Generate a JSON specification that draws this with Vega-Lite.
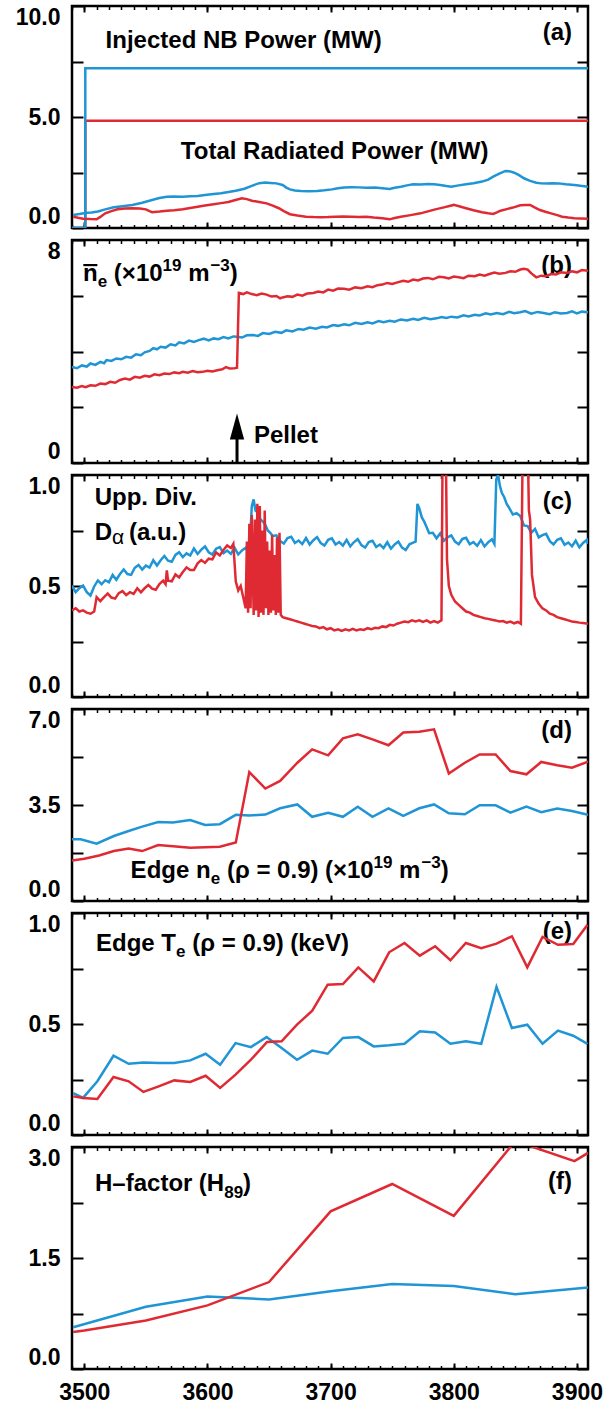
{
  "$schema": "https://vega.github.io/schema/vega-lite/v6.json",
  "padding": {"left": 13, "top": 3, "right": 5, "bottom": 5},
  "spacing": 6,
  "config": {
    "view": {"stroke": "#000", "strokeWidth": 2.5},
    "font": "Liberation Sans",
    "axis": {"labelFont": "Liberation Sans", "labelFontSize": 23, "labelFontWeight": "bold", "labelColor": "#000", "tickColor": "#000", "tickWidth": 2, "domain": false, "grid": false, "labelOverlap": false, "minExtent": 0},
    "text": {"font": "Liberation Sans", "fontWeight": "bold", "fontSize": 24, "color": "#000"},
    "line": {"strokeWidth": 2.5}
  },
  "datasets": {
    "notes": [
      {"panel": "a", "role": "main", "txt": "Injected NB Power (MW)", "t": 3517.3, "v": 8.1},
      {"panel": "a", "role": "main", "txt": "Total Radiated Power (MW)", "t": 3578.4, "v": 3.1},
      {"panel": "a", "role": "tag", "txt": "(a)", "t": 3896, "v": 8.8},
      {"panel": "b", "role": "main", "txt": "n", "t": 3498.9, "v": 6.53},
      {"panel": "b", "role": "sub", "txt": "e", "t": 3510.9, "v": 6.53},
      {"panel": "b", "role": "main", "txt": "(×10", "t": 3524.0, "v": 6.53},
      {"panel": "b", "role": "sup", "txt": "19", "t": 3563.5, "v": 6.53},
      {"panel": "b", "role": "main", "txt": "m", "t": 3584.3, "v": 6.53},
      {"panel": "b", "role": "sup", "txt": "−3", "t": 3602.4, "v": 6.53},
      {"panel": "b", "role": "main", "txt": ")", "t": 3618.1, "v": 6.53},
      {"panel": "b", "role": "main", "txt": "Pellet", "t": 3637.7, "v": 0.7},
      {"panel": "b", "role": "tag", "txt": "(b)", "t": 3896, "v": 7.07},
      {"panel": "c", "role": "main", "txt": "Upp. Div.", "t": 3508.4, "v": 0.864},
      {"panel": "c", "role": "main", "txt": "D", "t": 3508.4, "v": 0.709},
      {"panel": "c", "role": "greek", "txt": "α", "t": 3522.5, "v": 0.709},
      {"panel": "c", "role": "main", "txt": "(a.u.)", "t": 3536.2, "v": 0.709},
      {"panel": "c", "role": "tag", "txt": "(c)", "t": 3896, "v": 0.877},
      {"panel": "d", "role": "main", "txt": "Edge", "t": 3537.6, "v": 0.84},
      {"panel": "d", "role": "main", "txt": "n", "t": 3590.7, "v": 0.84},
      {"panel": "d", "role": "sub", "txt": "e", "t": 3602.6, "v": 0.84},
      {"panel": "d", "role": "main", "txt": "(ρ = 0.9)", "t": 3615.8, "v": 0.84},
      {"panel": "d", "role": "main", "txt": "(×10", "t": 3695.4, "v": 0.84},
      {"panel": "d", "role": "sup", "txt": "19", "t": 3734.9, "v": 0.84},
      {"panel": "d", "role": "main", "txt": "m", "t": 3755.6, "v": 0.84},
      {"panel": "d", "role": "sup", "txt": "−3", "t": 3773.7, "v": 0.84},
      {"panel": "d", "role": "main", "txt": ")", "t": 3789.5, "v": 0.84},
      {"panel": "d", "role": "tag", "txt": "(d)", "t": 3896, "v": 6.2},
      {"panel": "e", "role": "main", "txt": "Edge", "t": 3509.5, "v": 0.829},
      {"panel": "e", "role": "main", "txt": "T", "t": 3562.5, "v": 0.829},
      {"panel": "e", "role": "sub", "txt": "e", "t": 3574.5, "v": 0.829},
      {"panel": "e", "role": "main", "txt": "(ρ = 0.9)", "t": 3587.6, "v": 0.829},
      {"panel": "e", "role": "main", "txt": "(keV)", "t": 3667.2, "v": 0.829},
      {"panel": "e", "role": "tag", "txt": "(e)", "t": 3896, "v": 0.914},
      {"panel": "f", "role": "main", "txt": "H–factor", "t": 3508.7, "v": 2.405},
      {"panel": "f", "role": "main", "txt": "(H", "t": 3593.0, "v": 2.405},
      {"panel": "f", "role": "sub", "txt": "89", "t": 3613.6, "v": 2.405},
      {"panel": "f", "role": "main", "txt": ")", "t": 3628.9, "v": 2.405},
      {"panel": "f", "role": "tag", "txt": "(f)", "t": 3896, "v": 2.53}
    ],
    "overbar": [{"t0": 3499.2, "t1": 3510.6, "v": 7.1}],
    "pellet": [{"t": 3624, "v0": 0, "v1": 1.0, "head": 1.31}],
    "pa": [
      {"s": "nb_pellet", "t": 3490, "v": 0}, {"s": "nb_pellet", "t": 3500.8, "v": 4.83}, {"s": "nb_pellet", "t": 3909, "v": 4.83},
      {"s": "nb_ref", "t": 3490, "v": 0}, {"s": "nb_ref", "t": 3500.8, "v": 7.2}, {"s": "nb_ref", "t": 3909, "v": 7.2},
      {"s": "ref", "t": 3491, "v": 0.59}, {"s": "ref", "t": 3496, "v": 0.63}, {"s": "ref", "t": 3502, "v": 0.69}, {"s": "ref", "t": 3506, "v": 0.7}, {"s": "ref", "t": 3511, "v": 0.74}, {"s": "ref", "t": 3517, "v": 0.84}, {"s": "ref", "t": 3524, "v": 0.93}, {"s": "ref", "t": 3531, "v": 0.98}, {"s": "ref", "t": 3539, "v": 1.04}, {"s": "ref", "t": 3547, "v": 1.14}, {"s": "ref", "t": 3555, "v": 1.26}, {"s": "ref", "t": 3561, "v": 1.35}, {"s": "ref", "t": 3567, "v": 1.41}, {"s": "ref", "t": 3573, "v": 1.42}, {"s": "ref", "t": 3580, "v": 1.41}, {"s": "ref", "t": 3586, "v": 1.43}, {"s": "ref", "t": 3592, "v": 1.44}, {"s": "ref", "t": 3598, "v": 1.49}, {"s": "ref", "t": 3605, "v": 1.53}, {"s": "ref", "t": 3611, "v": 1.57}, {"s": "ref", "t": 3617, "v": 1.62}, {"s": "ref", "t": 3623, "v": 1.68}, {"s": "ref", "t": 3630, "v": 1.77}, {"s": "ref", "t": 3636, "v": 1.9}, {"s": "ref", "t": 3642, "v": 2.02}, {"s": "ref", "t": 3647, "v": 2.05}, {"s": "ref", "t": 3651, "v": 2.03}, {"s": "ref", "t": 3656, "v": 2.01}, {"s": "ref", "t": 3661, "v": 1.94}, {"s": "ref", "t": 3664, "v": 1.82}, {"s": "ref", "t": 3667, "v": 1.74}, {"s": "ref", "t": 3671, "v": 1.69}, {"s": "ref", "t": 3676, "v": 1.67}, {"s": "ref", "t": 3682, "v": 1.66}, {"s": "ref", "t": 3689, "v": 1.67}, {"s": "ref", "t": 3695, "v": 1.7}, {"s": "ref", "t": 3701, "v": 1.74}, {"s": "ref", "t": 3706, "v": 1.79}, {"s": "ref", "t": 3711, "v": 1.82}, {"s": "ref", "t": 3717, "v": 1.84}, {"s": "ref", "t": 3723, "v": 1.83}, {"s": "ref", "t": 3729, "v": 1.81}, {"s": "ref", "t": 3736, "v": 1.82}, {"s": "ref", "t": 3742, "v": 1.79}, {"s": "ref", "t": 3748, "v": 1.76}, {"s": "ref", "t": 3752, "v": 1.81}, {"s": "ref", "t": 3757, "v": 1.86}, {"s": "ref", "t": 3762, "v": 1.92}, {"s": "ref", "t": 3767, "v": 1.97}, {"s": "ref", "t": 3773, "v": 1.96}, {"s": "ref", "t": 3779, "v": 1.98}, {"s": "ref", "t": 3784, "v": 1.97}, {"s": "ref", "t": 3789, "v": 1.94}, {"s": "ref", "t": 3794, "v": 1.89}, {"s": "ref", "t": 3798, "v": 1.86}, {"s": "ref", "t": 3804, "v": 1.92}, {"s": "ref", "t": 3810, "v": 1.97}, {"s": "ref", "t": 3816, "v": 2.02}, {"s": "ref", "t": 3823, "v": 2.09}, {"s": "ref", "t": 3828, "v": 2.18}, {"s": "ref", "t": 3832, "v": 2.31}, {"s": "ref", "t": 3837, "v": 2.45}, {"s": "ref", "t": 3842, "v": 2.57}, {"s": "ref", "t": 3846, "v": 2.55}, {"s": "ref", "t": 3849, "v": 2.49}, {"s": "ref", "t": 3853, "v": 2.38}, {"s": "ref", "t": 3857, "v": 2.24}, {"s": "ref", "t": 3862, "v": 2.12}, {"s": "ref", "t": 3867, "v": 2.04}, {"s": "ref", "t": 3871, "v": 2.01}, {"s": "ref", "t": 3876, "v": 2.0}, {"s": "ref", "t": 3880, "v": 2.02}, {"s": "ref", "t": 3885, "v": 2.01}, {"s": "ref", "t": 3891, "v": 1.97}, {"s": "ref", "t": 3898, "v": 1.94}, {"s": "ref", "t": 3903, "v": 1.9}, {"s": "ref", "t": 3909, "v": 1.86},
      {"s": "pellet", "t": 3491, "v": 0.51}, {"s": "pellet", "t": 3495, "v": 0.46}, {"s": "pellet", "t": 3499, "v": 0.42}, {"s": "pellet", "t": 3505, "v": 0.4}, {"s": "pellet", "t": 3510, "v": 0.39}, {"s": "pellet", "t": 3513, "v": 0.5}, {"s": "pellet", "t": 3517, "v": 0.66}, {"s": "pellet", "t": 3522, "v": 0.76}, {"s": "pellet", "t": 3527, "v": 0.84}, {"s": "pellet", "t": 3533, "v": 0.88}, {"s": "pellet", "t": 3539, "v": 0.89}, {"s": "pellet", "t": 3545, "v": 0.88}, {"s": "pellet", "t": 3550, "v": 0.84}, {"s": "pellet", "t": 3553, "v": 0.76}, {"s": "pellet", "t": 3555, "v": 0.71}, {"s": "pellet", "t": 3561, "v": 0.74}, {"s": "pellet", "t": 3567, "v": 0.78}, {"s": "pellet", "t": 3573, "v": 0.8}, {"s": "pellet", "t": 3580, "v": 0.84}, {"s": "pellet", "t": 3586, "v": 0.9}, {"s": "pellet", "t": 3592, "v": 0.96}, {"s": "pellet", "t": 3598, "v": 1.01}, {"s": "pellet", "t": 3605, "v": 1.07}, {"s": "pellet", "t": 3611, "v": 1.12}, {"s": "pellet", "t": 3617, "v": 1.17}, {"s": "pellet", "t": 3622, "v": 1.25}, {"s": "pellet", "t": 3628, "v": 1.34}, {"s": "pellet", "t": 3632, "v": 1.3}, {"s": "pellet", "t": 3636, "v": 1.23}, {"s": "pellet", "t": 3642, "v": 1.17}, {"s": "pellet", "t": 3648, "v": 1.11}, {"s": "pellet", "t": 3653, "v": 1.01}, {"s": "pellet", "t": 3658, "v": 0.89}, {"s": "pellet", "t": 3662, "v": 0.76}, {"s": "pellet", "t": 3667, "v": 0.62}, {"s": "pellet", "t": 3673, "v": 0.56}, {"s": "pellet", "t": 3680, "v": 0.51}, {"s": "pellet", "t": 3686, "v": 0.49}, {"s": "pellet", "t": 3692, "v": 0.48}, {"s": "pellet", "t": 3698, "v": 0.49}, {"s": "pellet", "t": 3704, "v": 0.51}, {"s": "pellet", "t": 3710, "v": 0.52}, {"s": "pellet", "t": 3717, "v": 0.51}, {"s": "pellet", "t": 3723, "v": 0.49}, {"s": "pellet", "t": 3729, "v": 0.51}, {"s": "pellet", "t": 3735, "v": 0.47}, {"s": "pellet", "t": 3742, "v": 0.44}, {"s": "pellet", "t": 3748, "v": 0.39}, {"s": "pellet", "t": 3752, "v": 0.45}, {"s": "pellet", "t": 3757, "v": 0.51}, {"s": "pellet", "t": 3765, "v": 0.58}, {"s": "pellet", "t": 3773, "v": 0.66}, {"s": "pellet", "t": 3779, "v": 0.75}, {"s": "pellet", "t": 3785, "v": 0.84}, {"s": "pellet", "t": 3792, "v": 0.93}, {"s": "pellet", "t": 3800, "v": 1.04}, {"s": "pellet", "t": 3805, "v": 0.97}, {"s": "pellet", "t": 3810, "v": 0.89}, {"s": "pellet", "t": 3816, "v": 0.8}, {"s": "pellet", "t": 3823, "v": 0.71}, {"s": "pellet", "t": 3828, "v": 0.66}, {"s": "pellet", "t": 3832, "v": 0.63}, {"s": "pellet", "t": 3835, "v": 0.7}, {"s": "pellet", "t": 3838, "v": 0.78}, {"s": "pellet", "t": 3843, "v": 0.85}, {"s": "pellet", "t": 3848, "v": 0.92}, {"s": "pellet", "t": 3854, "v": 1.02}, {"s": "pellet", "t": 3858, "v": 1.04}, {"s": "pellet", "t": 3862, "v": 1.04}, {"s": "pellet", "t": 3866, "v": 0.92}, {"s": "pellet", "t": 3870, "v": 0.81}, {"s": "pellet", "t": 3875, "v": 0.72}, {"s": "pellet", "t": 3879, "v": 0.66}, {"s": "pellet", "t": 3884, "v": 0.58}, {"s": "pellet", "t": 3888, "v": 0.51}, {"s": "pellet", "t": 3893, "v": 0.47}, {"s": "pellet", "t": 3898, "v": 0.44}, {"s": "pellet", "t": 3903, "v": 0.43}, {"s": "pellet", "t": 3909, "v": 0.42}
    ],
    "pb": [
      {"s": "ref", "t": 3490, "v": 3.45}, {"s": "ref", "t": 3494, "v": 3.4}, {"s": "ref", "t": 3498, "v": 3.5}, {"s": "ref", "t": 3502, "v": 3.46}, {"s": "ref", "t": 3505, "v": 3.57}, {"s": "ref", "t": 3509, "v": 3.52}, {"s": "ref", "t": 3513, "v": 3.63}, {"s": "ref", "t": 3516, "v": 3.58}, {"s": "ref", "t": 3518, "v": 3.69}, {"s": "ref", "t": 3522, "v": 3.66}, {"s": "ref", "t": 3526, "v": 3.75}, {"s": "ref", "t": 3530, "v": 3.72}, {"s": "ref", "t": 3534, "v": 3.81}, {"s": "ref", "t": 3538, "v": 3.78}, {"s": "ref", "t": 3542, "v": 3.9}, {"s": "ref", "t": 3546, "v": 3.87}, {"s": "ref", "t": 3549, "v": 3.97}, {"s": "ref", "t": 3553, "v": 4.02}, {"s": "ref", "t": 3556, "v": 4.12}, {"s": "ref", "t": 3559, "v": 4.08}, {"s": "ref", "t": 3562, "v": 4.17}, {"s": "ref", "t": 3566, "v": 4.14}, {"s": "ref", "t": 3570, "v": 4.26}, {"s": "ref", "t": 3574, "v": 4.22}, {"s": "ref", "t": 3577, "v": 4.33}, {"s": "ref", "t": 3581, "v": 4.29}, {"s": "ref", "t": 3585, "v": 4.39}, {"s": "ref", "t": 3589, "v": 4.34}, {"s": "ref", "t": 3593, "v": 4.41}, {"s": "ref", "t": 3597, "v": 4.46}, {"s": "ref", "t": 3601, "v": 4.4}, {"s": "ref", "t": 3605, "v": 4.47}, {"s": "ref", "t": 3609, "v": 4.44}, {"s": "ref", "t": 3613, "v": 4.52}, {"s": "ref", "t": 3617, "v": 4.47}, {"s": "ref", "t": 3621, "v": 4.54}, {"s": "ref", "t": 3624, "v": 4.53}, {"s": "ref", "t": 3628, "v": 4.5}, {"s": "ref", "t": 3632, "v": 4.58}, {"s": "ref", "t": 3637, "v": 4.59}, {"s": "ref", "t": 3641, "v": 4.56}, {"s": "ref", "t": 3645, "v": 4.66}, {"s": "ref", "t": 3650, "v": 4.63}, {"s": "ref", "t": 3655, "v": 4.71}, {"s": "ref", "t": 3660, "v": 4.67}, {"s": "ref", "t": 3664, "v": 4.76}, {"s": "ref", "t": 3669, "v": 4.72}, {"s": "ref", "t": 3674, "v": 4.81}, {"s": "ref", "t": 3678, "v": 4.78}, {"s": "ref", "t": 3683, "v": 4.86}, {"s": "ref", "t": 3688, "v": 4.82}, {"s": "ref", "t": 3693, "v": 4.89}, {"s": "ref", "t": 3697, "v": 4.86}, {"s": "ref", "t": 3702, "v": 4.95}, {"s": "ref", "t": 3706, "v": 4.92}, {"s": "ref", "t": 3711, "v": 4.98}, {"s": "ref", "t": 3715, "v": 4.94}, {"s": "ref", "t": 3720, "v": 5.03}, {"s": "ref", "t": 3725, "v": 4.99}, {"s": "ref", "t": 3730, "v": 5.05}, {"s": "ref", "t": 3734, "v": 5.01}, {"s": "ref", "t": 3739, "v": 5.09}, {"s": "ref", "t": 3743, "v": 5.05}, {"s": "ref", "t": 3748, "v": 5.1}, {"s": "ref", "t": 3752, "v": 5.07}, {"s": "ref", "t": 3757, "v": 5.15}, {"s": "ref", "t": 3762, "v": 5.11}, {"s": "ref", "t": 3767, "v": 5.17}, {"s": "ref", "t": 3771, "v": 5.13}, {"s": "ref", "t": 3776, "v": 5.21}, {"s": "ref", "t": 3781, "v": 5.16}, {"s": "ref", "t": 3786, "v": 5.19}, {"s": "ref", "t": 3790, "v": 5.24}, {"s": "ref", "t": 3794, "v": 5.2}, {"s": "ref", "t": 3798, "v": 5.25}, {"s": "ref", "t": 3803, "v": 5.22}, {"s": "ref", "t": 3808, "v": 5.3}, {"s": "ref", "t": 3812, "v": 5.26}, {"s": "ref", "t": 3817, "v": 5.32}, {"s": "ref", "t": 3821, "v": 5.29}, {"s": "ref", "t": 3826, "v": 5.37}, {"s": "ref", "t": 3830, "v": 5.33}, {"s": "ref", "t": 3835, "v": 5.38}, {"s": "ref", "t": 3840, "v": 5.34}, {"s": "ref", "t": 3845, "v": 5.42}, {"s": "ref", "t": 3849, "v": 5.37}, {"s": "ref", "t": 3854, "v": 5.41}, {"s": "ref", "t": 3858, "v": 5.45}, {"s": "ref", "t": 3863, "v": 5.36}, {"s": "ref", "t": 3868, "v": 5.42}, {"s": "ref", "t": 3873, "v": 5.38}, {"s": "ref", "t": 3878, "v": 5.34}, {"s": "ref", "t": 3882, "v": 5.41}, {"s": "ref", "t": 3887, "v": 5.36}, {"s": "ref", "t": 3892, "v": 5.38}, {"s": "ref", "t": 3896, "v": 5.44}, {"s": "ref", "t": 3900, "v": 5.37}, {"s": "ref", "t": 3904, "v": 5.43}, {"s": "ref", "t": 3909, "v": 5.41},
      {"s": "pellet", "t": 3490, "v": 2.73}, {"s": "pellet", "t": 3494, "v": 2.7}, {"s": "pellet", "t": 3498, "v": 2.76}, {"s": "pellet", "t": 3501, "v": 2.72}, {"s": "pellet", "t": 3505, "v": 2.79}, {"s": "pellet", "t": 3509, "v": 2.77}, {"s": "pellet", "t": 3513, "v": 2.85}, {"s": "pellet", "t": 3517, "v": 2.83}, {"s": "pellet", "t": 3521, "v": 2.91}, {"s": "pellet", "t": 3525, "v": 2.88}, {"s": "pellet", "t": 3529, "v": 2.98}, {"s": "pellet", "t": 3533, "v": 3.03}, {"s": "pellet", "t": 3537, "v": 2.99}, {"s": "pellet", "t": 3541, "v": 3.09}, {"s": "pellet", "t": 3545, "v": 3.06}, {"s": "pellet", "t": 3549, "v": 3.13}, {"s": "pellet", "t": 3553, "v": 3.1}, {"s": "pellet", "t": 3557, "v": 3.18}, {"s": "pellet", "t": 3561, "v": 3.15}, {"s": "pellet", "t": 3565, "v": 3.21}, {"s": "pellet", "t": 3569, "v": 3.19}, {"s": "pellet", "t": 3573, "v": 3.25}, {"s": "pellet", "t": 3577, "v": 3.22}, {"s": "pellet", "t": 3580, "v": 3.27}, {"s": "pellet", "t": 3584, "v": 3.24}, {"s": "pellet", "t": 3588, "v": 3.3}, {"s": "pellet", "t": 3592, "v": 3.26}, {"s": "pellet", "t": 3596, "v": 3.27}, {"s": "pellet", "t": 3600, "v": 3.31}, {"s": "pellet", "t": 3604, "v": 3.28}, {"s": "pellet", "t": 3608, "v": 3.33}, {"s": "pellet", "t": 3612, "v": 3.36}, {"s": "pellet", "t": 3615, "v": 3.44}, {"s": "pellet", "t": 3618, "v": 3.39}, {"s": "pellet", "t": 3622, "v": 3.4}, {"s": "pellet", "t": 3624, "v": 3.42}, {"s": "pellet", "t": 3625.5, "v": 6.1}, {"s": "pellet", "t": 3629, "v": 6.06}, {"s": "pellet", "t": 3632, "v": 6.12}, {"s": "pellet", "t": 3636, "v": 6.06}, {"s": "pellet", "t": 3640, "v": 6.02}, {"s": "pellet", "t": 3644, "v": 6.08}, {"s": "pellet", "t": 3648, "v": 6.04}, {"s": "pellet", "t": 3652, "v": 5.97}, {"s": "pellet", "t": 3656, "v": 5.99}, {"s": "pellet", "t": 3659, "v": 5.91}, {"s": "pellet", "t": 3661, "v": 5.94}, {"s": "pellet", "t": 3665, "v": 5.98}, {"s": "pellet", "t": 3669, "v": 5.96}, {"s": "pellet", "t": 3673, "v": 6.04}, {"s": "pellet", "t": 3677, "v": 6.0}, {"s": "pellet", "t": 3681, "v": 6.08}, {"s": "pellet", "t": 3686, "v": 6.1}, {"s": "pellet", "t": 3690, "v": 6.15}, {"s": "pellet", "t": 3694, "v": 6.12}, {"s": "pellet", "t": 3698, "v": 6.22}, {"s": "pellet", "t": 3702, "v": 6.18}, {"s": "pellet", "t": 3706, "v": 6.26}, {"s": "pellet", "t": 3711, "v": 6.25}, {"s": "pellet", "t": 3715, "v": 6.22}, {"s": "pellet", "t": 3720, "v": 6.3}, {"s": "pellet", "t": 3725, "v": 6.27}, {"s": "pellet", "t": 3730, "v": 6.34}, {"s": "pellet", "t": 3734, "v": 6.31}, {"s": "pellet", "t": 3738, "v": 6.38}, {"s": "pellet", "t": 3742, "v": 6.4}, {"s": "pellet", "t": 3746, "v": 6.46}, {"s": "pellet", "t": 3750, "v": 6.42}, {"s": "pellet", "t": 3755, "v": 6.49}, {"s": "pellet", "t": 3759, "v": 6.54}, {"s": "pellet", "t": 3763, "v": 6.5}, {"s": "pellet", "t": 3767, "v": 6.58}, {"s": "pellet", "t": 3771, "v": 6.55}, {"s": "pellet", "t": 3775, "v": 6.62}, {"s": "pellet", "t": 3779, "v": 6.64}, {"s": "pellet", "t": 3783, "v": 6.59}, {"s": "pellet", "t": 3788, "v": 6.68}, {"s": "pellet", "t": 3792, "v": 6.66}, {"s": "pellet", "t": 3796, "v": 6.62}, {"s": "pellet", "t": 3800, "v": 6.69}, {"s": "pellet", "t": 3804, "v": 6.66}, {"s": "pellet", "t": 3808, "v": 6.63}, {"s": "pellet", "t": 3812, "v": 6.72}, {"s": "pellet", "t": 3817, "v": 6.7}, {"s": "pellet", "t": 3821, "v": 6.76}, {"s": "pellet", "t": 3825, "v": 6.72}, {"s": "pellet", "t": 3829, "v": 6.78}, {"s": "pellet", "t": 3833, "v": 6.83}, {"s": "pellet", "t": 3837, "v": 6.79}, {"s": "pellet", "t": 3842, "v": 6.82}, {"s": "pellet", "t": 3846, "v": 6.88}, {"s": "pellet", "t": 3850, "v": 6.86}, {"s": "pellet", "t": 3854, "v": 6.94}, {"s": "pellet", "t": 3857, "v": 6.97}, {"s": "pellet", "t": 3860, "v": 6.94}, {"s": "pellet", "t": 3863, "v": 6.8}, {"s": "pellet", "t": 3867, "v": 6.66}, {"s": "pellet", "t": 3871, "v": 6.72}, {"s": "pellet", "t": 3875, "v": 6.7}, {"s": "pellet", "t": 3879, "v": 6.78}, {"s": "pellet", "t": 3883, "v": 6.76}, {"s": "pellet", "t": 3887, "v": 6.84}, {"s": "pellet", "t": 3892, "v": 6.82}, {"s": "pellet", "t": 3896, "v": 6.88}, {"s": "pellet", "t": 3900, "v": 6.84}, {"s": "pellet", "t": 3904, "v": 6.92}, {"s": "pellet", "t": 3909, "v": 6.9}
    ],
    "pc": [
      {"s": "ref", "t": 3490, "v": 0.502}, {"s": "ref", "t": 3493, "v": 0.472}, {"s": "ref", "t": 3496, "v": 0.49}, {"s": "ref", "t": 3499, "v": 0.502}, {"s": "ref", "t": 3502, "v": 0.472}, {"s": "ref", "t": 3505, "v": 0.457}, {"s": "ref", "t": 3508, "v": 0.498}, {"s": "ref", "t": 3511, "v": 0.525}, {"s": "ref", "t": 3514, "v": 0.508}, {"s": "ref", "t": 3517, "v": 0.526}, {"s": "ref", "t": 3520, "v": 0.517}, {"s": "ref", "t": 3523, "v": 0.55}, {"s": "ref", "t": 3526, "v": 0.528}, {"s": "ref", "t": 3529, "v": 0.554}, {"s": "ref", "t": 3532, "v": 0.574}, {"s": "ref", "t": 3535, "v": 0.554}, {"s": "ref", "t": 3538, "v": 0.55}, {"s": "ref", "t": 3541, "v": 0.582}, {"s": "ref", "t": 3544, "v": 0.595}, {"s": "ref", "t": 3547, "v": 0.574}, {"s": "ref", "t": 3550, "v": 0.592}, {"s": "ref", "t": 3553, "v": 0.583}, {"s": "ref", "t": 3556, "v": 0.616}, {"s": "ref", "t": 3559, "v": 0.592}, {"s": "ref", "t": 3562, "v": 0.616}, {"s": "ref", "t": 3565, "v": 0.635}, {"s": "ref", "t": 3568, "v": 0.614}, {"s": "ref", "t": 3571, "v": 0.609}, {"s": "ref", "t": 3574, "v": 0.64}, {"s": "ref", "t": 3577, "v": 0.652}, {"s": "ref", "t": 3580, "v": 0.63}, {"s": "ref", "t": 3583, "v": 0.647}, {"s": "ref", "t": 3586, "v": 0.637}, {"s": "ref", "t": 3589, "v": 0.669}, {"s": "ref", "t": 3592, "v": 0.644}, {"s": "ref", "t": 3595, "v": 0.664}, {"s": "ref", "t": 3598, "v": 0.678}, {"s": "ref", "t": 3601, "v": 0.652}, {"s": "ref", "t": 3604, "v": 0.642}, {"s": "ref", "t": 3607, "v": 0.668}, {"s": "ref", "t": 3610, "v": 0.675}, {"s": "ref", "t": 3613, "v": 0.648}, {"s": "ref", "t": 3616, "v": 0.66}, {"s": "ref", "t": 3619, "v": 0.645}, {"s": "ref", "t": 3622, "v": 0.672}, {"s": "ref", "t": 3625, "v": 0.642}, {"s": "ref", "t": 3628, "v": 0.66}, {"s": "ref", "t": 3631, "v": 0.672}, {"s": "ref", "t": 3634, "v": 0.644}, {"s": "ref", "t": 3636, "v": 0.86}, {"s": "ref", "t": 3637.5, "v": 0.89}, {"s": "ref", "t": 3639, "v": 0.84}, {"s": "ref", "t": 3641, "v": 0.83}, {"s": "ref", "t": 3643, "v": 0.8}, {"s": "ref", "t": 3645, "v": 0.79}, {"s": "ref", "t": 3647, "v": 0.775}, {"s": "ref", "t": 3649, "v": 0.75}, {"s": "ref", "t": 3651, "v": 0.74}, {"s": "ref", "t": 3653, "v": 0.725}, {"s": "ref", "t": 3656, "v": 0.728}, {"s": "ref", "t": 3659, "v": 0.702}, {"s": "ref", "t": 3662, "v": 0.691}, {"s": "ref", "t": 3665, "v": 0.716}, {"s": "ref", "t": 3668, "v": 0.722}, {"s": "ref", "t": 3671, "v": 0.694}, {"s": "ref", "t": 3674, "v": 0.705}, {"s": "ref", "t": 3677, "v": 0.689}, {"s": "ref", "t": 3680, "v": 0.716}, {"s": "ref", "t": 3683, "v": 0.687}, {"s": "ref", "t": 3686, "v": 0.706}, {"s": "ref", "t": 3689, "v": 0.72}, {"s": "ref", "t": 3692, "v": 0.693}, {"s": "ref", "t": 3695, "v": 0.682}, {"s": "ref", "t": 3698, "v": 0.708}, {"s": "ref", "t": 3701, "v": 0.715}, {"s": "ref", "t": 3704, "v": 0.687}, {"s": "ref", "t": 3707, "v": 0.698}, {"s": "ref", "t": 3710, "v": 0.682}, {"s": "ref", "t": 3713, "v": 0.708}, {"s": "ref", "t": 3716, "v": 0.679}, {"s": "ref", "t": 3719, "v": 0.698}, {"s": "ref", "t": 3722, "v": 0.711}, {"s": "ref", "t": 3725, "v": 0.684}, {"s": "ref", "t": 3728, "v": 0.673}, {"s": "ref", "t": 3731, "v": 0.698}, {"s": "ref", "t": 3734, "v": 0.704}, {"s": "ref", "t": 3737, "v": 0.676}, {"s": "ref", "t": 3740, "v": 0.687}, {"s": "ref", "t": 3743, "v": 0.671}, {"s": "ref", "t": 3746, "v": 0.697}, {"s": "ref", "t": 3749, "v": 0.668}, {"s": "ref", "t": 3752, "v": 0.687}, {"s": "ref", "t": 3755, "v": 0.7}, {"s": "ref", "t": 3758, "v": 0.673}, {"s": "ref", "t": 3761, "v": 0.662}, {"s": "ref", "t": 3764, "v": 0.688}, {"s": "ref", "t": 3767, "v": 0.695}, {"s": "ref", "t": 3769, "v": 0.7}, {"s": "ref", "t": 3770.5, "v": 0.87}, {"s": "ref", "t": 3772, "v": 0.85}, {"s": "ref", "t": 3774, "v": 0.81}, {"s": "ref", "t": 3776, "v": 0.79}, {"s": "ref", "t": 3778, "v": 0.765}, {"s": "ref", "t": 3780, "v": 0.738}, {"s": "ref", "t": 3783, "v": 0.74}, {"s": "ref", "t": 3786, "v": 0.715}, {"s": "ref", "t": 3789, "v": 0.737}, {"s": "ref", "t": 3792, "v": 0.704}, {"s": "ref", "t": 3795, "v": 0.719}, {"s": "ref", "t": 3798, "v": 0.728}, {"s": "ref", "t": 3801, "v": 0.7}, {"s": "ref", "t": 3804, "v": 0.688}, {"s": "ref", "t": 3807, "v": 0.712}, {"s": "ref", "t": 3810, "v": 0.717}, {"s": "ref", "t": 3813, "v": 0.688}, {"s": "ref", "t": 3816, "v": 0.698}, {"s": "ref", "t": 3819, "v": 0.681}, {"s": "ref", "t": 3822, "v": 0.707}, {"s": "ref", "t": 3825, "v": 0.678}, {"s": "ref", "t": 3828, "v": 0.697}, {"s": "ref", "t": 3831, "v": 0.71}, {"s": "ref", "t": 3833, "v": 0.69}, {"s": "ref", "t": 3834.5, "v": 0.98}, {"s": "ref", "t": 3836, "v": 1.0}, {"s": "ref", "t": 3837.5, "v": 0.95}, {"s": "ref", "t": 3839, "v": 0.92}, {"s": "ref", "t": 3841, "v": 0.9}, {"s": "ref", "t": 3843, "v": 0.87}, {"s": "ref", "t": 3845, "v": 0.852}, {"s": "ref", "t": 3848, "v": 0.822}, {"s": "ref", "t": 3851, "v": 0.828}, {"s": "ref", "t": 3854, "v": 0.815}, {"s": "ref", "t": 3857, "v": 0.773}, {"s": "ref", "t": 3860, "v": 0.77}, {"s": "ref", "t": 3863, "v": 0.74}, {"s": "ref", "t": 3866, "v": 0.757}, {"s": "ref", "t": 3869, "v": 0.719}, {"s": "ref", "t": 3872, "v": 0.729}, {"s": "ref", "t": 3875, "v": 0.735}, {"s": "ref", "t": 3878, "v": 0.702}, {"s": "ref", "t": 3881, "v": 0.687}, {"s": "ref", "t": 3884, "v": 0.708}, {"s": "ref", "t": 3887, "v": 0.715}, {"s": "ref", "t": 3890, "v": 0.686}, {"s": "ref", "t": 3893, "v": 0.696}, {"s": "ref", "t": 3896, "v": 0.679}, {"s": "ref", "t": 3899, "v": 0.704}, {"s": "ref", "t": 3902, "v": 0.674}, {"s": "ref", "t": 3905, "v": 0.694}, {"s": "ref", "t": 3908, "v": 0.708}, {"s": "ref", "t": 3909, "v": 0.69},
      {"s": "pellet", "t": 3490, "v": 0.39}, {"s": "pellet", "t": 3493, "v": 0.4}, {"s": "pellet", "t": 3496, "v": 0.385}, {"s": "pellet", "t": 3499, "v": 0.39}, {"s": "pellet", "t": 3502, "v": 0.38}, {"s": "pellet", "t": 3505, "v": 0.375}, {"s": "pellet", "t": 3508, "v": 0.385}, {"s": "pellet", "t": 3510, "v": 0.45}, {"s": "pellet", "t": 3513, "v": 0.432}, {"s": "pellet", "t": 3516, "v": 0.45}, {"s": "pellet", "t": 3519, "v": 0.466}, {"s": "pellet", "t": 3522, "v": 0.448}, {"s": "pellet", "t": 3525, "v": 0.443}, {"s": "pellet", "t": 3528, "v": 0.468}, {"s": "pellet", "t": 3531, "v": 0.477}, {"s": "pellet", "t": 3534, "v": 0.459}, {"s": "pellet", "t": 3537, "v": 0.472}, {"s": "pellet", "t": 3540, "v": 0.464}, {"s": "pellet", "t": 3543, "v": 0.49}, {"s": "pellet", "t": 3546, "v": 0.471}, {"s": "pellet", "t": 3549, "v": 0.49}, {"s": "pellet", "t": 3552, "v": 0.505}, {"s": "pellet", "t": 3555, "v": 0.488}, {"s": "pellet", "t": 3558, "v": 0.483}, {"s": "pellet", "t": 3561, "v": 0.509}, {"s": "pellet", "t": 3564, "v": 0.524}, {"s": "pellet", "t": 3566, "v": 0.508}, {"s": "pellet", "t": 3567, "v": 0.57}, {"s": "pellet", "t": 3568, "v": 0.524}, {"s": "pellet", "t": 3571, "v": 0.521}, {"s": "pellet", "t": 3574, "v": 0.552}, {"s": "pellet", "t": 3577, "v": 0.539}, {"s": "pellet", "t": 3580, "v": 0.563}, {"s": "pellet", "t": 3583, "v": 0.584}, {"s": "pellet", "t": 3586, "v": 0.572}, {"s": "pellet", "t": 3589, "v": 0.572}, {"s": "pellet", "t": 3592, "v": 0.602}, {"s": "pellet", "t": 3595, "v": 0.617}, {"s": "pellet", "t": 3598, "v": 0.604}, {"s": "pellet", "t": 3601, "v": 0.623}, {"s": "pellet", "t": 3604, "v": 0.62}, {"s": "pellet", "t": 3607, "v": 0.651}, {"s": "pellet", "t": 3610, "v": 0.638}, {"s": "pellet", "t": 3613, "v": 0.662}, {"s": "pellet", "t": 3616, "v": 0.683}, {"s": "pellet", "t": 3619, "v": 0.671}, {"s": "pellet", "t": 3621, "v": 0.69}, {"s": "pellet", "t": 3623, "v": 0.52}, {"s": "pellet", "t": 3625, "v": 0.48}, {"s": "pellet", "t": 3627, "v": 0.5}, {"s": "pellet", "t": 3629, "v": 0.45}, {"s": "pellet", "t": 3631, "v": 0.4}, {"s": "pellet", "t": 3632, "v": 0.7}, {"s": "pellet", "t": 3633, "v": 0.38}, {"s": "pellet", "t": 3634, "v": 0.78}, {"s": "pellet", "t": 3635, "v": 0.4}, {"s": "pellet", "t": 3636, "v": 0.82}, {"s": "pellet", "t": 3637.5, "v": 0.37}, {"s": "pellet", "t": 3638.5, "v": 0.8}, {"s": "pellet", "t": 3639.5, "v": 0.39}, {"s": "pellet", "t": 3640.5, "v": 0.87}, {"s": "pellet", "t": 3641.5, "v": 0.36}, {"s": "pellet", "t": 3642.5, "v": 0.86}, {"s": "pellet", "t": 3643.5, "v": 0.38}, {"s": "pellet", "t": 3644.5, "v": 0.75}, {"s": "pellet", "t": 3645.5, "v": 0.37}, {"s": "pellet", "t": 3646.5, "v": 0.84}, {"s": "pellet", "t": 3647.5, "v": 0.4}, {"s": "pellet", "t": 3648.5, "v": 0.7}, {"s": "pellet", "t": 3649.5, "v": 0.37}, {"s": "pellet", "t": 3650.5, "v": 0.66}, {"s": "pellet", "t": 3651.5, "v": 0.38}, {"s": "pellet", "t": 3652.5, "v": 0.73}, {"s": "pellet", "t": 3653.5, "v": 0.39}, {"s": "pellet", "t": 3654.5, "v": 0.64}, {"s": "pellet", "t": 3655.5, "v": 0.37}, {"s": "pellet", "t": 3656.5, "v": 0.72}, {"s": "pellet", "t": 3657.5, "v": 0.38}, {"s": "pellet", "t": 3658.5, "v": 0.74}, {"s": "pellet", "t": 3659.5, "v": 0.37}, {"s": "pellet", "t": 3661, "v": 0.36}, {"s": "pellet", "t": 3664, "v": 0.355}, {"s": "pellet", "t": 3667, "v": 0.35}, {"s": "pellet", "t": 3670, "v": 0.345}, {"s": "pellet", "t": 3673, "v": 0.34}, {"s": "pellet", "t": 3676, "v": 0.335}, {"s": "pellet", "t": 3679, "v": 0.33}, {"s": "pellet", "t": 3682, "v": 0.325}, {"s": "pellet", "t": 3685, "v": 0.32}, {"s": "pellet", "t": 3688, "v": 0.318}, {"s": "pellet", "t": 3691, "v": 0.31}, {"s": "pellet", "t": 3694, "v": 0.315}, {"s": "pellet", "t": 3697, "v": 0.305}, {"s": "pellet", "t": 3700, "v": 0.31}, {"s": "pellet", "t": 3703, "v": 0.3}, {"s": "pellet", "t": 3706, "v": 0.305}, {"s": "pellet", "t": 3709, "v": 0.298}, {"s": "pellet", "t": 3712, "v": 0.305}, {"s": "pellet", "t": 3715, "v": 0.3}, {"s": "pellet", "t": 3718, "v": 0.307}, {"s": "pellet", "t": 3721, "v": 0.3}, {"s": "pellet", "t": 3724, "v": 0.305}, {"s": "pellet", "t": 3727, "v": 0.302}, {"s": "pellet", "t": 3730, "v": 0.31}, {"s": "pellet", "t": 3733, "v": 0.305}, {"s": "pellet", "t": 3736, "v": 0.312}, {"s": "pellet", "t": 3739, "v": 0.31}, {"s": "pellet", "t": 3742, "v": 0.318}, {"s": "pellet", "t": 3745, "v": 0.315}, {"s": "pellet", "t": 3748, "v": 0.325}, {"s": "pellet", "t": 3751, "v": 0.322}, {"s": "pellet", "t": 3754, "v": 0.33}, {"s": "pellet", "t": 3757, "v": 0.335}, {"s": "pellet", "t": 3760, "v": 0.34}, {"s": "pellet", "t": 3763, "v": 0.337}, {"s": "pellet", "t": 3766, "v": 0.345}, {"s": "pellet", "t": 3769, "v": 0.34}, {"s": "pellet", "t": 3772, "v": 0.345}, {"s": "pellet", "t": 3775, "v": 0.338}, {"s": "pellet", "t": 3778, "v": 0.345}, {"s": "pellet", "t": 3781, "v": 0.335}, {"s": "pellet", "t": 3784, "v": 0.342}, {"s": "pellet", "t": 3787, "v": 0.335}, {"s": "pellet", "t": 3790, "v": 0.345}, {"s": "pellet", "t": 3791, "v": 1.15}, {"s": "pellet", "t": 3793.5, "v": 1.15}, {"s": "pellet", "t": 3794.5, "v": 0.62}, {"s": "pellet", "t": 3796, "v": 0.5}, {"s": "pellet", "t": 3798, "v": 0.46}, {"s": "pellet", "t": 3801, "v": 0.43}, {"s": "pellet", "t": 3804, "v": 0.415}, {"s": "pellet", "t": 3807, "v": 0.4}, {"s": "pellet", "t": 3810, "v": 0.385}, {"s": "pellet", "t": 3813, "v": 0.38}, {"s": "pellet", "t": 3816, "v": 0.37}, {"s": "pellet", "t": 3819, "v": 0.365}, {"s": "pellet", "t": 3822, "v": 0.36}, {"s": "pellet", "t": 3825, "v": 0.355}, {"s": "pellet", "t": 3828, "v": 0.352}, {"s": "pellet", "t": 3831, "v": 0.348}, {"s": "pellet", "t": 3834, "v": 0.345}, {"s": "pellet", "t": 3837, "v": 0.34}, {"s": "pellet", "t": 3840, "v": 0.342}, {"s": "pellet", "t": 3843, "v": 0.335}, {"s": "pellet", "t": 3846, "v": 0.34}, {"s": "pellet", "t": 3849, "v": 0.332}, {"s": "pellet", "t": 3852, "v": 0.338}, {"s": "pellet", "t": 3854.5, "v": 0.33}, {"s": "pellet", "t": 3856, "v": 1.15}, {"s": "pellet", "t": 3860, "v": 1.15}, {"s": "pellet", "t": 3861, "v": 0.84}, {"s": "pellet", "t": 3862, "v": 0.8}, {"s": "pellet", "t": 3863.5, "v": 0.55}, {"s": "pellet", "t": 3866, "v": 0.45}, {"s": "pellet", "t": 3869, "v": 0.42}, {"s": "pellet", "t": 3872, "v": 0.4}, {"s": "pellet", "t": 3875, "v": 0.39}, {"s": "pellet", "t": 3878, "v": 0.375}, {"s": "pellet", "t": 3881, "v": 0.37}, {"s": "pellet", "t": 3884, "v": 0.36}, {"s": "pellet", "t": 3887, "v": 0.355}, {"s": "pellet", "t": 3890, "v": 0.35}, {"s": "pellet", "t": 3893, "v": 0.345}, {"s": "pellet", "t": 3896, "v": 0.34}, {"s": "pellet", "t": 3899, "v": 0.338}, {"s": "pellet", "t": 3902, "v": 0.335}, {"s": "pellet", "t": 3905, "v": 0.333}, {"s": "pellet", "t": 3909, "v": 0.33}
    ],
    "pd": [
      {"s": "ref", "t": 3490, "v": 2.25}, {"s": "ref", "t": 3497, "v": 2.25}, {"s": "ref", "t": 3510, "v": 2.09}, {"s": "ref", "t": 3524, "v": 2.37}, {"s": "ref", "t": 3536, "v": 2.55}, {"s": "ref", "t": 3547, "v": 2.71}, {"s": "ref", "t": 3560, "v": 2.88}, {"s": "ref", "t": 3572, "v": 2.86}, {"s": "ref", "t": 3586, "v": 2.95}, {"s": "ref", "t": 3598, "v": 2.77}, {"s": "ref", "t": 3610, "v": 2.8}, {"s": "ref", "t": 3623, "v": 3.14}, {"s": "ref", "t": 3634, "v": 3.12}, {"s": "ref", "t": 3647, "v": 3.15}, {"s": "ref", "t": 3659, "v": 3.38}, {"s": "ref", "t": 3673, "v": 3.52}, {"s": "ref", "t": 3685, "v": 3.07}, {"s": "ref", "t": 3698, "v": 3.22}, {"s": "ref", "t": 3710, "v": 3.07}, {"s": "ref", "t": 3722, "v": 3.44}, {"s": "ref", "t": 3734, "v": 3.07}, {"s": "ref", "t": 3747, "v": 3.38}, {"s": "ref", "t": 3759, "v": 3.1}, {"s": "ref", "t": 3772, "v": 3.38}, {"s": "ref", "t": 3784, "v": 3.52}, {"s": "ref", "t": 3796, "v": 3.2}, {"s": "ref", "t": 3809, "v": 3.16}, {"s": "ref", "t": 3821, "v": 3.49}, {"s": "ref", "t": 3834, "v": 3.49}, {"s": "ref", "t": 3846, "v": 3.22}, {"s": "ref", "t": 3859, "v": 3.44}, {"s": "ref", "t": 3871, "v": 3.24}, {"s": "ref", "t": 3884, "v": 3.37}, {"s": "ref", "t": 3896, "v": 3.28}, {"s": "ref", "t": 3909, "v": 3.14},
      {"s": "pellet", "t": 3490, "v": 1.48}, {"s": "pellet", "t": 3500, "v": 1.54}, {"s": "pellet", "t": 3512, "v": 1.66}, {"s": "pellet", "t": 3524, "v": 1.82}, {"s": "pellet", "t": 3536, "v": 1.91}, {"s": "pellet", "t": 3547, "v": 1.82}, {"s": "pellet", "t": 3560, "v": 2.04}, {"s": "pellet", "t": 3572, "v": 2.0}, {"s": "pellet", "t": 3586, "v": 1.94}, {"s": "pellet", "t": 3598, "v": 1.96}, {"s": "pellet", "t": 3610, "v": 1.98}, {"s": "pellet", "t": 3623, "v": 2.13}, {"s": "pellet", "t": 3634, "v": 4.7}, {"s": "pellet", "t": 3647, "v": 4.1}, {"s": "pellet", "t": 3659, "v": 4.38}, {"s": "pellet", "t": 3673, "v": 5.04}, {"s": "pellet", "t": 3685, "v": 5.53}, {"s": "pellet", "t": 3698, "v": 5.31}, {"s": "pellet", "t": 3710, "v": 5.93}, {"s": "pellet", "t": 3722, "v": 6.08}, {"s": "pellet", "t": 3734, "v": 5.89}, {"s": "pellet", "t": 3747, "v": 5.68}, {"s": "pellet", "t": 3759, "v": 6.14}, {"s": "pellet", "t": 3772, "v": 6.17}, {"s": "pellet", "t": 3784, "v": 6.26}, {"s": "pellet", "t": 3796, "v": 4.65}, {"s": "pellet", "t": 3809, "v": 5.04}, {"s": "pellet", "t": 3821, "v": 5.34}, {"s": "pellet", "t": 3834, "v": 5.34}, {"s": "pellet", "t": 3846, "v": 4.74}, {"s": "pellet", "t": 3859, "v": 4.62}, {"s": "pellet", "t": 3871, "v": 5.07}, {"s": "pellet", "t": 3884, "v": 4.95}, {"s": "pellet", "t": 3896, "v": 4.86}, {"s": "pellet", "t": 3909, "v": 5.08}
    ],
    "pe": [
      {"s": "ref", "t": 3491, "v": 0.189}, {"s": "ref", "t": 3499, "v": 0.167}, {"s": "ref", "t": 3510.6, "v": 0.242}, {"s": "ref", "t": 3523.7, "v": 0.357}, {"s": "ref", "t": 3536, "v": 0.321}, {"s": "ref", "t": 3548, "v": 0.327}, {"s": "ref", "t": 3560.4, "v": 0.324}, {"s": "ref", "t": 3573, "v": 0.324}, {"s": "ref", "t": 3586, "v": 0.336}, {"s": "ref", "t": 3598.5, "v": 0.366}, {"s": "ref", "t": 3610.3, "v": 0.317}, {"s": "ref", "t": 3622.8, "v": 0.414}, {"s": "ref", "t": 3635.3, "v": 0.396}, {"s": "ref", "t": 3648, "v": 0.441}, {"s": "ref", "t": 3660.2, "v": 0.392}, {"s": "ref", "t": 3672.7, "v": 0.339}, {"s": "ref", "t": 3685.1, "v": 0.38}, {"s": "ref", "t": 3697.6, "v": 0.366}, {"s": "ref", "t": 3710, "v": 0.437}, {"s": "ref", "t": 3722.5, "v": 0.441}, {"s": "ref", "t": 3735, "v": 0.399}, {"s": "ref", "t": 3747.5, "v": 0.404}, {"s": "ref", "t": 3760, "v": 0.411}, {"s": "ref", "t": 3772.4, "v": 0.467}, {"s": "ref", "t": 3784.9, "v": 0.462}, {"s": "ref", "t": 3797.3, "v": 0.411}, {"s": "ref", "t": 3809.8, "v": 0.422}, {"s": "ref", "t": 3822.3, "v": 0.411}, {"s": "ref", "t": 3834.7, "v": 0.667}, {"s": "ref", "t": 3847.2, "v": 0.482}, {"s": "ref", "t": 3859.7, "v": 0.497}, {"s": "ref", "t": 3872.1, "v": 0.411}, {"s": "ref", "t": 3884.6, "v": 0.47}, {"s": "ref", "t": 3897, "v": 0.447}, {"s": "ref", "t": 3908.6, "v": 0.41},
      {"s": "pellet", "t": 3491, "v": 0.174}, {"s": "pellet", "t": 3499, "v": 0.167}, {"s": "pellet", "t": 3510.6, "v": 0.162}, {"s": "pellet", "t": 3523.7, "v": 0.261}, {"s": "pellet", "t": 3536, "v": 0.242}, {"s": "pellet", "t": 3548, "v": 0.194}, {"s": "pellet", "t": 3560.4, "v": 0.219}, {"s": "pellet", "t": 3573, "v": 0.246}, {"s": "pellet", "t": 3586, "v": 0.239}, {"s": "pellet", "t": 3598.5, "v": 0.267}, {"s": "pellet", "t": 3610.3, "v": 0.212}, {"s": "pellet", "t": 3622.8, "v": 0.272}, {"s": "pellet", "t": 3635.3, "v": 0.339}, {"s": "pellet", "t": 3648.4, "v": 0.419}, {"s": "pellet", "t": 3660.2, "v": 0.422}, {"s": "pellet", "t": 3672.7, "v": 0.497}, {"s": "pellet", "t": 3685.1, "v": 0.56}, {"s": "pellet", "t": 3697.6, "v": 0.677}, {"s": "pellet", "t": 3710, "v": 0.68}, {"s": "pellet", "t": 3722.5, "v": 0.755}, {"s": "pellet", "t": 3735, "v": 0.692}, {"s": "pellet", "t": 3747.5, "v": 0.823}, {"s": "pellet", "t": 3760, "v": 0.865}, {"s": "pellet", "t": 3772.4, "v": 0.808}, {"s": "pellet", "t": 3784.9, "v": 0.85}, {"s": "pellet", "t": 3797.3, "v": 0.787}, {"s": "pellet", "t": 3809.8, "v": 0.865}, {"s": "pellet", "t": 3822.3, "v": 0.842}, {"s": "pellet", "t": 3834.7, "v": 0.862}, {"s": "pellet", "t": 3847.2, "v": 0.895}, {"s": "pellet", "t": 3859.7, "v": 0.755}, {"s": "pellet", "t": 3872.1, "v": 0.892}, {"s": "pellet", "t": 3884.6, "v": 0.857}, {"s": "pellet", "t": 3897, "v": 0.86}, {"s": "pellet", "t": 3908.6, "v": 0.947}
    ],
    "pf": [
      {"s": "ref", "t": 3491, "v": 0.565}, {"s": "ref", "t": 3550, "v": 0.84}, {"s": "ref", "t": 3600, "v": 0.98}, {"s": "ref", "t": 3650, "v": 0.94}, {"s": "ref", "t": 3700, "v": 1.05}, {"s": "ref", "t": 3750, "v": 1.15}, {"s": "ref", "t": 3800, "v": 1.12}, {"s": "ref", "t": 3850, "v": 1.01}, {"s": "ref", "t": 3909, "v": 1.1},
      {"s": "pellet", "t": 3491, "v": 0.5}, {"s": "pellet", "t": 3500, "v": 0.52}, {"s": "pellet", "t": 3550, "v": 0.655}, {"s": "pellet", "t": 3600, "v": 0.86}, {"s": "pellet", "t": 3650, "v": 1.175}, {"s": "pellet", "t": 3700, "v": 2.13}, {"s": "pellet", "t": 3750, "v": 2.5}, {"s": "pellet", "t": 3800, "v": 2.07}, {"s": "pellet", "t": 3850, "v": 3.08}, {"s": "pellet", "t": 3898, "v": 2.81}, {"s": "pellet", "t": 3909, "v": 2.92}
    ]
  },
  "vconcat": [
    {
      "width": 516, "height": 222,
      "layer": [
        {"data": {"name": "notes"}, "transform": [{"filter": "datum.panel == 'a' && datum.role == 'main'"}],
         "mark": {"type": "text", "align": "left", "baseline": "alphabetic"},
         "encoding": {"x": {"field": "t", "type": "quantitative", "scale": {"domain": [3490, 3909], "nice": false, "zero": false}, "axis": {"orient": "bottom", "values": [3490,3500,3510,3520,3530,3540,3550,3560,3570,3580,3590,3600,3610,3620,3630,3640,3650,3660,3670,3680,3690,3700,3710,3720,3730,3740,3750,3760,3770,3780,3790,3800,3810,3820,3830,3840,3850,3860,3870,3880,3890,3900], "tickSize": -3.5, "tickWidth": 1.5, "labels": false, "title": null}},
                      "y": {"field": "v", "type": "quantitative", "scale": {"domain": [0, 10], "nice": false, "zero": false}, "axis": null},
                      "text": {"field": "txt"}}},
        {"data": {"name": "notes"}, "transform": [{"filter": "datum.panel == 'a' && datum.role == 'tag'"}],
         "mark": {"type": "text", "align": "right", "baseline": "middle"},
         "encoding": {"x": {"field": "t", "type": "quantitative", "scale": {"domain": [3490, 3909], "nice": false, "zero": false}, "axis": {"orient": "top", "values": [3500,3600,3700,3800,3900], "tickSize": -6, "labels": false, "title": null}},
                      "y": {"field": "v", "type": "quantitative", "scale": {"domain": [0, 10], "nice": false, "zero": false}, "axis": null},
                      "text": {"field": "txt"}}},
        {"data": {"name": "pa"}, "transform": [{"filter": "datum.s == 'nb_pellet'"}],
         "mark": {"type": "line", "color": "#e02a33", "interpolate": "step-after", "clip": true},
         "encoding": {"x": {"field": "t", "type": "quantitative", "scale": {"domain": [3490, 3909], "nice": false, "zero": false}, "axis": null},
                      "y": {"field": "v", "type": "quantitative", "scale": {"domain": [0, 10], "nice": false, "zero": false}, "axis": null}}},
        {"data": {"name": "pa"}, "transform": [{"filter": "datum.s == 'nb_ref'"}],
         "mark": {"type": "line", "color": "#1f95d5", "interpolate": "step-after", "clip": true},
         "encoding": {"x": {"field": "t", "type": "quantitative", "scale": {"domain": [3490, 3909], "nice": false, "zero": false}, "axis": null},
                      "y": {"field": "v", "type": "quantitative", "scale": {"domain": [0, 10], "nice": false, "zero": false}, "axis": null}}},
        {"data": {"name": "pa"}, "transform": [{"filter": "datum.s == 'ref'"}],
         "mark": {"type": "line", "color": "#1f95d5", "clip": true},
         "encoding": {"x": {"field": "t", "type": "quantitative", "scale": {"domain": [3490, 3909], "nice": false, "zero": false}, "axis": {"orient": "bottom", "values": [3500,3600,3700,3800,3900], "tickSize": -6, "labels": false, "title": null}},
                      "y": {"field": "v", "type": "quantitative", "scale": {"domain": [0, 10], "nice": false, "zero": false}, "axis": {"orient": "left", "values": [0, 2.5, 5, 7.5, 10], "tickSize": -11, "labelPadding": 23, "labelFlush": true, "labelExpr": "datum.value % 5 == 0 ? format(datum.value, '.1f') : ''", "title": null}}}},
        {"data": {"name": "pa"}, "transform": [{"filter": "datum.s == 'pellet'"}],
         "mark": {"type": "line", "color": "#e02a33", "clip": true},
         "encoding": {"x": {"field": "t", "type": "quantitative", "scale": {"domain": [3490, 3909], "nice": false, "zero": false}, "axis": {"orient": "top", "values": [3490,3500,3510,3520,3530,3540,3550,3560,3570,3580,3590,3600,3610,3620,3630,3640,3650,3660,3670,3680,3690,3700,3710,3720,3730,3740,3750,3760,3770,3780,3790,3800,3810,3820,3830,3840,3850,3860,3870,3880,3890,3900], "tickSize": -3.5, "tickWidth": 1.5, "labels": false, "title": null}},
                      "y": {"field": "v", "type": "quantitative", "scale": {"domain": [0, 10], "nice": false, "zero": false}, "axis": {"orient": "right", "values": [0, 2.5, 5, 7.5, 10], "tickSize": -11, "labels": false, "title": null}}}}
      ],
      "resolve": {"axis": {"x": "independent", "y": "independent"}}
    },
    {
      "width": 516, "height": 223,
      "layer": [
        {"data": {"name": "notes"}, "transform": [{"filter": "datum.panel == 'b' && datum.role == 'main'"}],
         "mark": {"type": "text", "align": "left", "baseline": "alphabetic"},
         "encoding": {"x": {"field": "t", "type": "quantitative", "scale": {"domain": [3490, 3909], "nice": false, "zero": false}, "axis": {"orient": "bottom", "values": [3490,3500,3510,3520,3530,3540,3550,3560,3570,3580,3590,3600,3610,3620,3630,3640,3650,3660,3670,3680,3690,3700,3710,3720,3730,3740,3750,3760,3770,3780,3790,3800,3810,3820,3830,3840,3850,3860,3870,3880,3890,3900], "tickSize": -3.5, "tickWidth": 1.5, "labels": false, "title": null}},
                      "y": {"field": "v", "type": "quantitative", "scale": {"domain": [0, 8], "nice": false, "zero": false}, "axis": null},
                      "text": {"field": "txt"}}},
        {"data": {"name": "notes"}, "transform": [{"filter": "datum.panel == 'b' && datum.role == 'sub'"}],
         "mark": {"type": "text", "align": "left", "baseline": "alphabetic", "fontSize": 17, "dy": 6},
         "encoding": {"x": {"field": "t", "type": "quantitative", "scale": {"domain": [3490, 3909], "nice": false, "zero": false}, "axis": null},
                      "y": {"field": "v", "type": "quantitative", "scale": {"domain": [0, 8], "nice": false, "zero": false}, "axis": null},
                      "text": {"field": "txt"}}},
        {"data": {"name": "notes"}, "transform": [{"filter": "datum.panel == 'b' && datum.role == 'sup'"}],
         "mark": {"type": "text", "align": "left", "baseline": "alphabetic", "fontSize": 17, "dy": -10},
         "encoding": {"x": {"field": "t", "type": "quantitative", "scale": {"domain": [3490, 3909], "nice": false, "zero": false}, "axis": null},
                      "y": {"field": "v", "type": "quantitative", "scale": {"domain": [0, 8], "nice": false, "zero": false}, "axis": null},
                      "text": {"field": "txt"}}},
        {"data": {"name": "overbar"},
         "mark": {"type": "rule", "color": "#000", "strokeWidth": 2.2},
         "encoding": {"x": {"field": "t0", "type": "quantitative", "scale": {"domain": [3490, 3909], "nice": false, "zero": false}, "axis": null},
                      "x2": {"field": "t1"},
                      "y": {"field": "v", "type": "quantitative", "scale": {"domain": [0, 8], "nice": false, "zero": false}, "axis": null}}},
        {"data": {"name": "notes"}, "transform": [{"filter": "datum.panel == 'b' && datum.role == 'tag'"}],
         "mark": {"type": "text", "align": "right", "baseline": "middle"},
         "encoding": {"x": {"field": "t", "type": "quantitative", "scale": {"domain": [3490, 3909], "nice": false, "zero": false}, "axis": {"orient": "top", "values": [3500,3600,3700,3800,3900], "tickSize": -6, "labels": false, "title": null}},
                      "y": {"field": "v", "type": "quantitative", "scale": {"domain": [0, 8], "nice": false, "zero": false}, "axis": null},
                      "text": {"field": "txt"}}},
        {"data": {"name": "pellet"},
         "mark": {"type": "rule", "color": "#000", "strokeWidth": 3},
         "encoding": {"x": {"field": "t", "type": "quantitative", "scale": {"domain": [3490, 3909], "nice": false, "zero": false}, "axis": null},
                      "y": {"field": "v0", "type": "quantitative", "scale": {"domain": [0, 8], "nice": false, "zero": false}, "axis": null},
                      "y2": {"field": "v1"}}},
        {"data": {"name": "pellet"},
         "mark": {"type": "point", "shape": "M0,-1L0.55,1L-0.55,1Z", "filled": true, "color": "#000", "opacity": 1, "size": 676},
         "encoding": {"x": {"field": "t", "type": "quantitative", "scale": {"domain": [3490, 3909], "nice": false, "zero": false}, "axis": null},
                      "y": {"field": "head", "type": "quantitative", "scale": {"domain": [0, 8], "nice": false, "zero": false}, "axis": null}}},
        {"data": {"name": "pb"}, "transform": [{"filter": "datum.s == 'ref'"}],
         "mark": {"type": "line", "color": "#1f95d5", "clip": true},
         "encoding": {"x": {"field": "t", "type": "quantitative", "scale": {"domain": [3490, 3909], "nice": false, "zero": false}, "axis": {"orient": "bottom", "values": [3500,3600,3700,3800,3900], "tickSize": -6, "labels": false, "title": null}},
                      "y": {"field": "v", "type": "quantitative", "scale": {"domain": [0, 8], "nice": false, "zero": false}, "axis": {"orient": "left", "values": [0, 2, 4, 6, 8], "tickSize": -11, "labelPadding": 23, "labelFlush": true, "labelExpr": "datum.value == 0 || datum.value == 8 ? format(datum.value, 'd') : ''", "title": null}}}},
        {"data": {"name": "pb"}, "transform": [{"filter": "datum.s == 'pellet'"}],
         "mark": {"type": "line", "color": "#e02a33", "clip": true},
         "encoding": {"x": {"field": "t", "type": "quantitative", "scale": {"domain": [3490, 3909], "nice": false, "zero": false}, "axis": {"orient": "top", "values": [3490,3500,3510,3520,3530,3540,3550,3560,3570,3580,3590,3600,3610,3620,3630,3640,3650,3660,3670,3680,3690,3700,3710,3720,3730,3740,3750,3760,3770,3780,3790,3800,3810,3820,3830,3840,3850,3860,3870,3880,3890,3900], "tickSize": -3.5, "tickWidth": 1.5, "labels": false, "title": null}},
                      "y": {"field": "v", "type": "quantitative", "scale": {"domain": [0, 8], "nice": false, "zero": false}, "axis": {"orient": "right", "values": [0, 2, 4, 6, 8], "tickSize": -11, "labels": false, "title": null}}}}
      ],
      "resolve": {"axis": {"x": "independent", "y": "independent"}}
    },
    {
      "width": 516, "height": 222,
      "layer": [
        {"data": {"name": "notes"}, "transform": [{"filter": "datum.panel == 'c' && datum.role == 'main'"}],
         "mark": {"type": "text", "align": "left", "baseline": "alphabetic"},
         "encoding": {"x": {"field": "t", "type": "quantitative", "scale": {"domain": [3490, 3909], "nice": false, "zero": false}, "axis": {"orient": "bottom", "values": [3490,3500,3510,3520,3530,3540,3550,3560,3570,3580,3590,3600,3610,3620,3630,3640,3650,3660,3670,3680,3690,3700,3710,3720,3730,3740,3750,3760,3770,3780,3790,3800,3810,3820,3830,3840,3850,3860,3870,3880,3890,3900], "tickSize": -3.5, "tickWidth": 1.5, "labels": false, "title": null}},
                      "y": {"field": "v", "type": "quantitative", "scale": {"domain": [0, 1], "nice": false, "zero": false}, "axis": null},
                      "text": {"field": "txt"}}},
        {"data": {"name": "notes"}, "transform": [{"filter": "datum.panel == 'c' && datum.role == 'greek'"}],
         "mark": {"type": "text", "align": "left", "baseline": "alphabetic", "fontSize": 21, "fontWeight": "normal", "dy": 4},
         "encoding": {"x": {"field": "t", "type": "quantitative", "scale": {"domain": [3490, 3909], "nice": false, "zero": false}, "axis": null},
                      "y": {"field": "v", "type": "quantitative", "scale": {"domain": [0, 1], "nice": false, "zero": false}, "axis": null},
                      "text": {"field": "txt"}}},
        {"data": {"name": "notes"}, "transform": [{"filter": "datum.panel == 'c' && datum.role == 'tag'"}],
         "mark": {"type": "text", "align": "right", "baseline": "middle"},
         "encoding": {"x": {"field": "t", "type": "quantitative", "scale": {"domain": [3490, 3909], "nice": false, "zero": false}, "axis": {"orient": "top", "values": [3500,3600,3700,3800,3900], "tickSize": -6, "labels": false, "title": null}},
                      "y": {"field": "v", "type": "quantitative", "scale": {"domain": [0, 1], "nice": false, "zero": false}, "axis": null},
                      "text": {"field": "txt"}}},
        {"data": {"name": "pc"}, "transform": [{"filter": "datum.s == 'ref'"}],
         "mark": {"type": "line", "color": "#1f95d5", "clip": true},
         "encoding": {"x": {"field": "t", "type": "quantitative", "scale": {"domain": [3490, 3909], "nice": false, "zero": false}, "axis": {"orient": "bottom", "values": [3500,3600,3700,3800,3900], "tickSize": -6, "labels": false, "title": null}},
                      "y": {"field": "v", "type": "quantitative", "scale": {"domain": [0, 1], "nice": false, "zero": false}, "axis": {"orient": "left", "values": [0, 0.25, 0.5, 0.75, 1], "tickSize": -11, "labelPadding": 23, "labelFlush": true, "labelExpr": "datum.value == 0 || datum.value == 0.5 || datum.value == 1 ? format(datum.value, '.1f') : ''", "title": null}}}},
        {"data": {"name": "pc"}, "transform": [{"filter": "datum.s == 'pellet'"}],
         "mark": {"type": "line", "color": "#e02a33", "clip": true},
         "encoding": {"x": {"field": "t", "type": "quantitative", "scale": {"domain": [3490, 3909], "nice": false, "zero": false}, "axis": {"orient": "top", "values": [3490,3500,3510,3520,3530,3540,3550,3560,3570,3580,3590,3600,3610,3620,3630,3640,3650,3660,3670,3680,3690,3700,3710,3720,3730,3740,3750,3760,3770,3780,3790,3800,3810,3820,3830,3840,3850,3860,3870,3880,3890,3900], "tickSize": -3.5, "tickWidth": 1.5, "labels": false, "title": null}},
                      "y": {"field": "v", "type": "quantitative", "scale": {"domain": [0, 1], "nice": false, "zero": false}, "axis": {"orient": "right", "values": [0, 0.25, 0.5, 0.75, 1], "tickSize": -11, "labels": false, "title": null}}}}
      ],
      "resolve": {"axis": {"x": "independent", "y": "independent"}}
    },
    {
      "width": 516, "height": 192,
      "layer": [
        {"data": {"name": "notes"}, "transform": [{"filter": "datum.panel == 'd' && datum.role == 'main'"}],
         "mark": {"type": "text", "align": "left", "baseline": "alphabetic"},
         "encoding": {"x": {"field": "t", "type": "quantitative", "scale": {"domain": [3490, 3909], "nice": false, "zero": false}, "axis": {"orient": "bottom", "values": [3490,3500,3510,3520,3530,3540,3550,3560,3570,3580,3590,3600,3610,3620,3630,3640,3650,3660,3670,3680,3690,3700,3710,3720,3730,3740,3750,3760,3770,3780,3790,3800,3810,3820,3830,3840,3850,3860,3870,3880,3890,3900], "tickSize": -3.5, "tickWidth": 1.5, "labels": false, "title": null}},
                      "y": {"field": "v", "type": "quantitative", "scale": {"domain": [0, 7], "nice": false, "zero": false}, "axis": null},
                      "text": {"field": "txt"}}},
        {"data": {"name": "notes"}, "transform": [{"filter": "datum.panel == 'd' && datum.role == 'sub'"}],
         "mark": {"type": "text", "align": "left", "baseline": "alphabetic", "fontSize": 17, "dy": 6},
         "encoding": {"x": {"field": "t", "type": "quantitative", "scale": {"domain": [3490, 3909], "nice": false, "zero": false}, "axis": null},
                      "y": {"field": "v", "type": "quantitative", "scale": {"domain": [0, 7], "nice": false, "zero": false}, "axis": null},
                      "text": {"field": "txt"}}},
        {"data": {"name": "notes"}, "transform": [{"filter": "datum.panel == 'd' && datum.role == 'sup'"}],
         "mark": {"type": "text", "align": "left", "baseline": "alphabetic", "fontSize": 17, "dy": -10},
         "encoding": {"x": {"field": "t", "type": "quantitative", "scale": {"domain": [3490, 3909], "nice": false, "zero": false}, "axis": null},
                      "y": {"field": "v", "type": "quantitative", "scale": {"domain": [0, 7], "nice": false, "zero": false}, "axis": null},
                      "text": {"field": "txt"}}},
        {"data": {"name": "notes"}, "transform": [{"filter": "datum.panel == 'd' && datum.role == 'tag'"}],
         "mark": {"type": "text", "align": "right", "baseline": "middle"},
         "encoding": {"x": {"field": "t", "type": "quantitative", "scale": {"domain": [3490, 3909], "nice": false, "zero": false}, "axis": {"orient": "top", "values": [3500,3600,3700,3800,3900], "tickSize": -6, "labels": false, "title": null}},
                      "y": {"field": "v", "type": "quantitative", "scale": {"domain": [0, 7], "nice": false, "zero": false}, "axis": null},
                      "text": {"field": "txt"}}},
        {"data": {"name": "pd"}, "transform": [{"filter": "datum.s == 'ref'"}],
         "mark": {"type": "line", "color": "#1f95d5", "clip": true},
         "encoding": {"x": {"field": "t", "type": "quantitative", "scale": {"domain": [3490, 3909], "nice": false, "zero": false}, "axis": {"orient": "bottom", "values": [3500,3600,3700,3800,3900], "tickSize": -6, "labels": false, "title": null}},
                      "y": {"field": "v", "type": "quantitative", "scale": {"domain": [0, 7], "nice": false, "zero": false}, "axis": {"orient": "left", "values": [0, 1.75, 3.5, 5.25, 7], "tickSize": -11, "labelPadding": 23, "labelFlush": true, "labelExpr": "datum.value == 0 || datum.value == 3.5 || datum.value == 7 ? format(datum.value, '.1f') : ''", "title": null}}}},
        {"data": {"name": "pd"}, "transform": [{"filter": "datum.s == 'pellet'"}],
         "mark": {"type": "line", "color": "#e02a33", "clip": true},
         "encoding": {"x": {"field": "t", "type": "quantitative", "scale": {"domain": [3490, 3909], "nice": false, "zero": false}, "axis": {"orient": "top", "values": [3490,3500,3510,3520,3530,3540,3550,3560,3570,3580,3590,3600,3610,3620,3630,3640,3650,3660,3670,3680,3690,3700,3710,3720,3730,3740,3750,3760,3770,3780,3790,3800,3810,3820,3830,3840,3850,3860,3870,3880,3890,3900], "tickSize": -3.5, "tickWidth": 1.5, "labels": false, "title": null}},
                      "y": {"field": "v", "type": "quantitative", "scale": {"domain": [0, 7], "nice": false, "zero": false}, "axis": {"orient": "right", "values": [0, 1.75, 3.5, 5.25, 7], "tickSize": -11, "labels": false, "title": null}}}}
      ],
      "resolve": {"axis": {"x": "independent", "y": "independent"}}
    },
    {
      "width": 516, "height": 222,
      "layer": [
        {"data": {"name": "notes"}, "transform": [{"filter": "datum.panel == 'e' && datum.role == 'main'"}],
         "mark": {"type": "text", "align": "left", "baseline": "alphabetic"},
         "encoding": {"x": {"field": "t", "type": "quantitative", "scale": {"domain": [3490, 3909], "nice": false, "zero": false}, "axis": {"orient": "bottom", "values": [3490,3500,3510,3520,3530,3540,3550,3560,3570,3580,3590,3600,3610,3620,3630,3640,3650,3660,3670,3680,3690,3700,3710,3720,3730,3740,3750,3760,3770,3780,3790,3800,3810,3820,3830,3840,3850,3860,3870,3880,3890,3900], "tickSize": -3.5, "tickWidth": 1.5, "labels": false, "title": null}},
                      "y": {"field": "v", "type": "quantitative", "scale": {"domain": [0, 1], "nice": false, "zero": false}, "axis": null},
                      "text": {"field": "txt"}}},
        {"data": {"name": "notes"}, "transform": [{"filter": "datum.panel == 'e' && datum.role == 'sub'"}],
         "mark": {"type": "text", "align": "left", "baseline": "alphabetic", "fontSize": 17, "dy": 6},
         "encoding": {"x": {"field": "t", "type": "quantitative", "scale": {"domain": [3490, 3909], "nice": false, "zero": false}, "axis": null},
                      "y": {"field": "v", "type": "quantitative", "scale": {"domain": [0, 1], "nice": false, "zero": false}, "axis": null},
                      "text": {"field": "txt"}}},
        {"data": {"name": "notes"}, "transform": [{"filter": "datum.panel == 'e' && datum.role == 'tag'"}],
         "mark": {"type": "text", "align": "right", "baseline": "middle"},
         "encoding": {"x": {"field": "t", "type": "quantitative", "scale": {"domain": [3490, 3909], "nice": false, "zero": false}, "axis": {"orient": "top", "values": [3500,3600,3700,3800,3900], "tickSize": -6, "labels": false, "title": null}},
                      "y": {"field": "v", "type": "quantitative", "scale": {"domain": [0, 1], "nice": false, "zero": false}, "axis": null},
                      "text": {"field": "txt"}}},
        {"data": {"name": "pe"}, "transform": [{"filter": "datum.s == 'ref'"}],
         "mark": {"type": "line", "color": "#1f95d5", "clip": true},
         "encoding": {"x": {"field": "t", "type": "quantitative", "scale": {"domain": [3490, 3909], "nice": false, "zero": false}, "axis": {"orient": "bottom", "values": [3500,3600,3700,3800,3900], "tickSize": -6, "labels": false, "title": null}},
                      "y": {"field": "v", "type": "quantitative", "scale": {"domain": [0, 1], "nice": false, "zero": false}, "axis": {"orient": "left", "values": [0, 0.25, 0.5, 0.75, 1], "tickSize": -11, "labelPadding": 23, "labelFlush": true, "labelExpr": "datum.value == 0 || datum.value == 0.5 || datum.value == 1 ? format(datum.value, '.1f') : ''", "title": null}}}},
        {"data": {"name": "pe"}, "transform": [{"filter": "datum.s == 'pellet'"}],
         "mark": {"type": "line", "color": "#e02a33", "clip": true},
         "encoding": {"x": {"field": "t", "type": "quantitative", "scale": {"domain": [3490, 3909], "nice": false, "zero": false}, "axis": {"orient": "top", "values": [3490,3500,3510,3520,3530,3540,3550,3560,3570,3580,3590,3600,3610,3620,3630,3640,3650,3660,3670,3680,3690,3700,3710,3720,3730,3740,3750,3760,3770,3780,3790,3800,3810,3820,3830,3840,3850,3860,3870,3880,3890,3900], "tickSize": -3.5, "tickWidth": 1.5, "labels": false, "title": null}},
                      "y": {"field": "v", "type": "quantitative", "scale": {"domain": [0, 1], "nice": false, "zero": false}, "axis": {"orient": "right", "values": [0, 0.25, 0.5, 0.75, 1], "tickSize": -11, "labels": false, "title": null}}}}
      ],
      "resolve": {"axis": {"x": "independent", "y": "independent"}}
    },
    {
      "width": 516, "height": 222,
      "layer": [
        {"data": {"name": "notes"}, "transform": [{"filter": "datum.panel == 'f' && datum.role == 'main'"}],
         "mark": {"type": "text", "align": "left", "baseline": "alphabetic"},
         "encoding": {"x": {"field": "t", "type": "quantitative", "scale": {"domain": [3490, 3909], "nice": false, "zero": false}, "axis": {"orient": "bottom", "values": [3490,3500,3510,3520,3530,3540,3550,3560,3570,3580,3590,3600,3610,3620,3630,3640,3650,3660,3670,3680,3690,3700,3710,3720,3730,3740,3750,3760,3770,3780,3790,3800,3810,3820,3830,3840,3850,3860,3870,3880,3890,3900], "tickSize": -3.5, "tickWidth": 1.5, "labels": false, "title": null}},
                      "y": {"field": "v", "type": "quantitative", "scale": {"domain": [0, 3], "nice": false, "zero": false}, "axis": null},
                      "text": {"field": "txt"}}},
        {"data": {"name": "notes"}, "transform": [{"filter": "datum.panel == 'f' && datum.role == 'sub'"}],
         "mark": {"type": "text", "align": "left", "baseline": "alphabetic", "fontSize": 17, "dy": 7},
         "encoding": {"x": {"field": "t", "type": "quantitative", "scale": {"domain": [3490, 3909], "nice": false, "zero": false}, "axis": null},
                      "y": {"field": "v", "type": "quantitative", "scale": {"domain": [0, 3], "nice": false, "zero": false}, "axis": null},
                      "text": {"field": "txt"}}},
        {"data": {"name": "notes"}, "transform": [{"filter": "datum.panel == 'f' && datum.role == 'tag'"}],
         "mark": {"type": "text", "align": "right", "baseline": "middle"},
         "encoding": {"x": {"field": "t", "type": "quantitative", "scale": {"domain": [3490, 3909], "nice": false, "zero": false}, "axis": {"orient": "top", "values": [3500,3600,3700,3800,3900], "tickSize": -6, "labels": false, "title": null}},
                      "y": {"field": "v", "type": "quantitative", "scale": {"domain": [0, 3], "nice": false, "zero": false}, "axis": null},
                      "text": {"field": "txt"}}},
        {"data": {"name": "pf"}, "transform": [{"filter": "datum.s == 'ref'"}],
         "mark": {"type": "line", "color": "#1f95d5", "clip": true},
         "encoding": {"x": {"field": "t", "type": "quantitative", "scale": {"domain": [3490, 3909], "nice": false, "zero": false}, "axis": {"orient": "bottom", "values": [3500,3600,3700,3800,3900], "tickSize": -6, "labelPadding": 18, "format": "d", "title": null}},
                      "y": {"field": "v", "type": "quantitative", "scale": {"domain": [0, 3], "nice": false, "zero": false}, "axis": {"orient": "left", "values": [0, 0.75, 1.5, 2.25, 3], "tickSize": -11, "labelPadding": 23, "labelFlush": true, "labelExpr": "datum.value == 0 || datum.value == 1.5 || datum.value == 3 ? format(datum.value, '.1f') : ''", "title": null}}}},
        {"data": {"name": "pf"}, "transform": [{"filter": "datum.s == 'pellet'"}],
         "mark": {"type": "line", "color": "#e02a33", "clip": true},
         "encoding": {"x": {"field": "t", "type": "quantitative", "scale": {"domain": [3490, 3909], "nice": false, "zero": false}, "axis": {"orient": "top", "values": [3490,3500,3510,3520,3530,3540,3550,3560,3570,3580,3590,3600,3610,3620,3630,3640,3650,3660,3670,3680,3690,3700,3710,3720,3730,3740,3750,3760,3770,3780,3790,3800,3810,3820,3830,3840,3850,3860,3870,3880,3890,3900], "tickSize": -3.5, "tickWidth": 1.5, "labels": false, "title": null}},
                      "y": {"field": "v", "type": "quantitative", "scale": {"domain": [0, 3], "nice": false, "zero": false}, "axis": {"orient": "right", "values": [0, 0.75, 1.5, 2.25, 3], "tickSize": -11, "labels": false, "title": null}}}}
      ],
      "resolve": {"axis": {"x": "independent", "y": "independent"}}
    }
  ]
}
